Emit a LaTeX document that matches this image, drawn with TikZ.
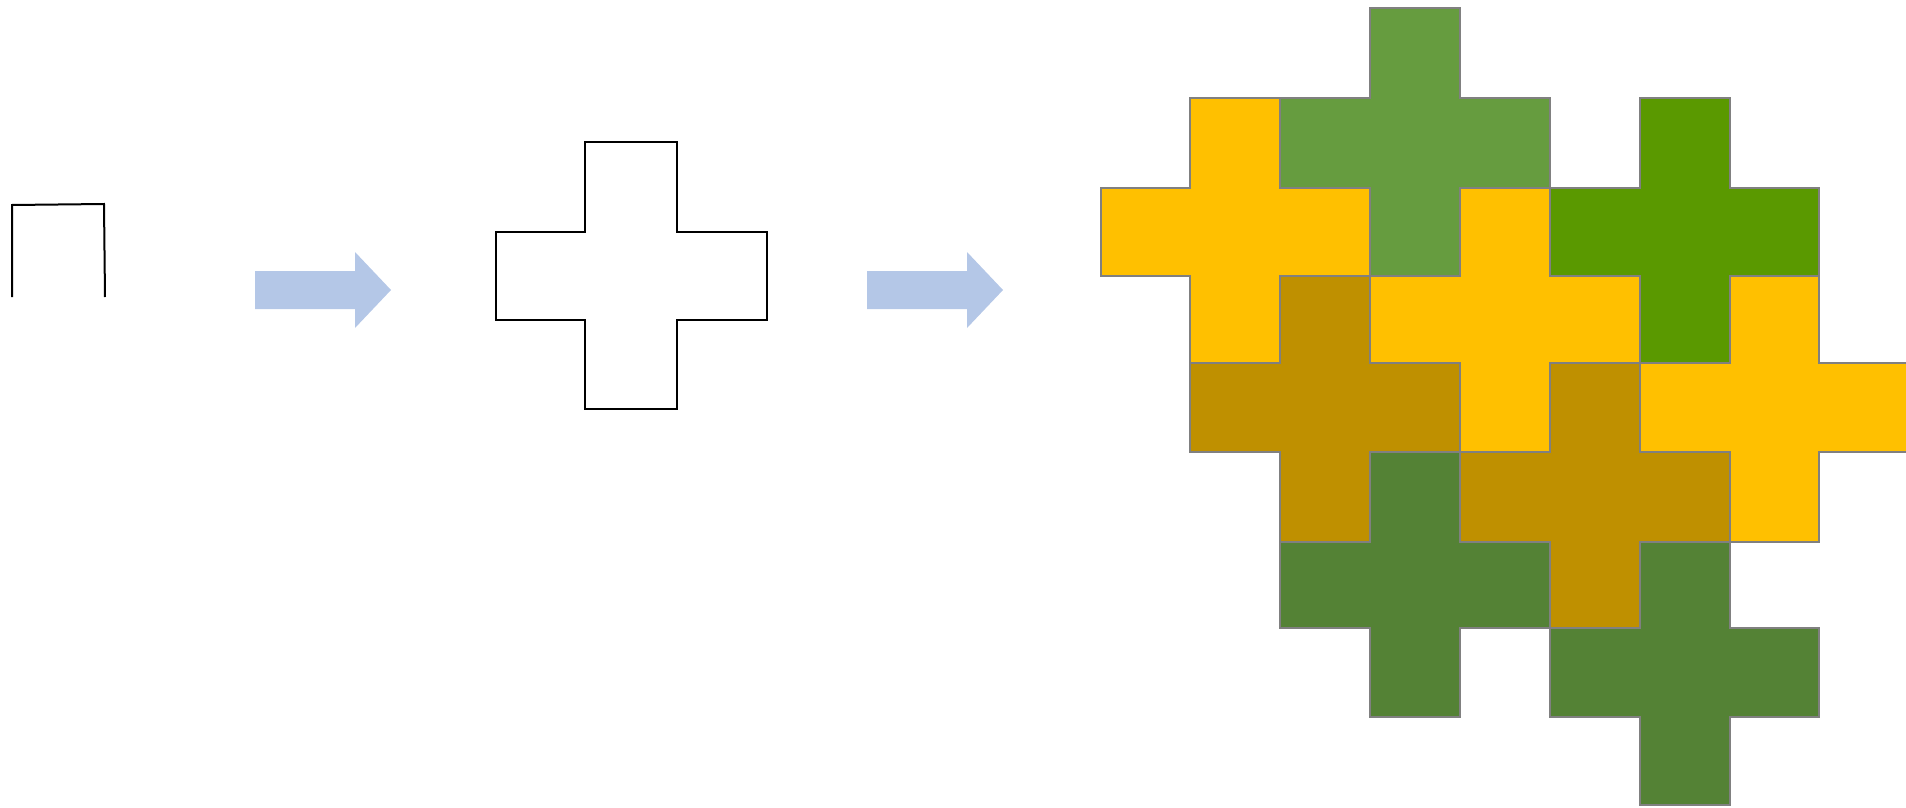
\documentclass[tikz,border=0pt]{standalone}
\definecolor{arrowblue}{HTML}{B4C7E7}
\definecolor{tileolive}{HTML}{669C3F}
\definecolor{tilelime}{HTML}{5A9900}
\definecolor{tilegreen}{HTML}{548235}
\definecolor{tilegold}{HTML}{FFC000}
\definecolor{tilebronze}{HTML}{BF9000}
\definecolor{tileedge}{HTML}{808080}
\tikzset{
  outline/.style={draw=black, line width=2pt, line join=miter},
  tile/.style={draw=tileedge, line width=2pt, line join=miter},
  blockarrow/.style={fill=arrowblue, draw=none},
}
% plus-shaped pentomino whose centre cell is at grid column #1, row #2
\newcommand{\plustile}[3]{%
  \pgfmathtruncatemacro{\tcA}{#1-1}%
  \pgfmathtruncatemacro{\tcB}{#1+1}%
  \pgfmathtruncatemacro{\tcC}{#1+2}%
  \pgfmathtruncatemacro{\trA}{#2-1}%
  \pgfmathtruncatemacro{\trB}{#2+1}%
  \pgfmathtruncatemacro{\trC}{#2+2}%
  \draw[tile, fill=#3] (g-#1-\trA) -- (g-\tcB-\trA) -- (g-\tcB-#2) -- (g-\tcC-#2)
    -- (g-\tcC-\trB) -- (g-\tcB-\trB) -- (g-\tcB-\trC) -- (g-#1-\trC)
    -- (g-#1-\trB) -- (g-\tcA-\trB) -- (g-\tcA-#2) -- (g-#1-#2) -- cycle;
}
\begin{document}
\begin{tikzpicture}[x=1pt, y=-1pt]
  \useasboundingbox (0,0) rectangle (1906,808);
  \clip (0,0) rectangle (1906,808);

  % open unit square
  \draw[outline] (12,297) -- (12,205) -- (104,204) -- (105,297);

  % first block arrow
  \fill[blockarrow] (255,271) -- (355,271) -- (355,252) -- (391,290)
    -- (355,328) -- (355,309) -- (255,309) -- cycle;

  % single plus pentomino
  \draw[outline] (585,142) -- (677,142) -- (677,232) -- (767,232) -- (767,320)
    -- (677,320) -- (677,409) -- (585,409) -- (585,320) -- (496,320)
    -- (496,232) -- (585,232) -- cycle;

  % second block arrow
  \fill[blockarrow] (867,271) -- (967,271) -- (967,252) -- (1003,290)
    -- (967,328) -- (967,309) -- (867,309) -- cycle;

  % grid of the tiling
  \foreach \c/\x in {0/1101,1/1190,2/1280,3/1370,4/1460,5/1550,6/1640,7/1730,8/1819,9/1909}{
    \foreach \r/\y in {0/8,1/98,2/188,3/276,4/363,5/452,6/542,7/628,8/717,9/805}{
      \coordinate (g-\c-\r) at (\x,\y);
    }
  }

  % tiling by plus pentominoes
  \plustile{3}{1}{tileolive}
  \plustile{1}{2}{tilegold}
  \plustile{6}{2}{tilelime}
  \plustile{4}{3}{tilegold}
  \plustile{7}{4}{tilegold}
  \plustile{2}{4}{tilebronze}
  \plustile{5}{5}{tilebronze}
  \plustile{3}{6}{tilegreen}
  \plustile{6}{7}{tilegreen}
\end{tikzpicture}
\end{document}
